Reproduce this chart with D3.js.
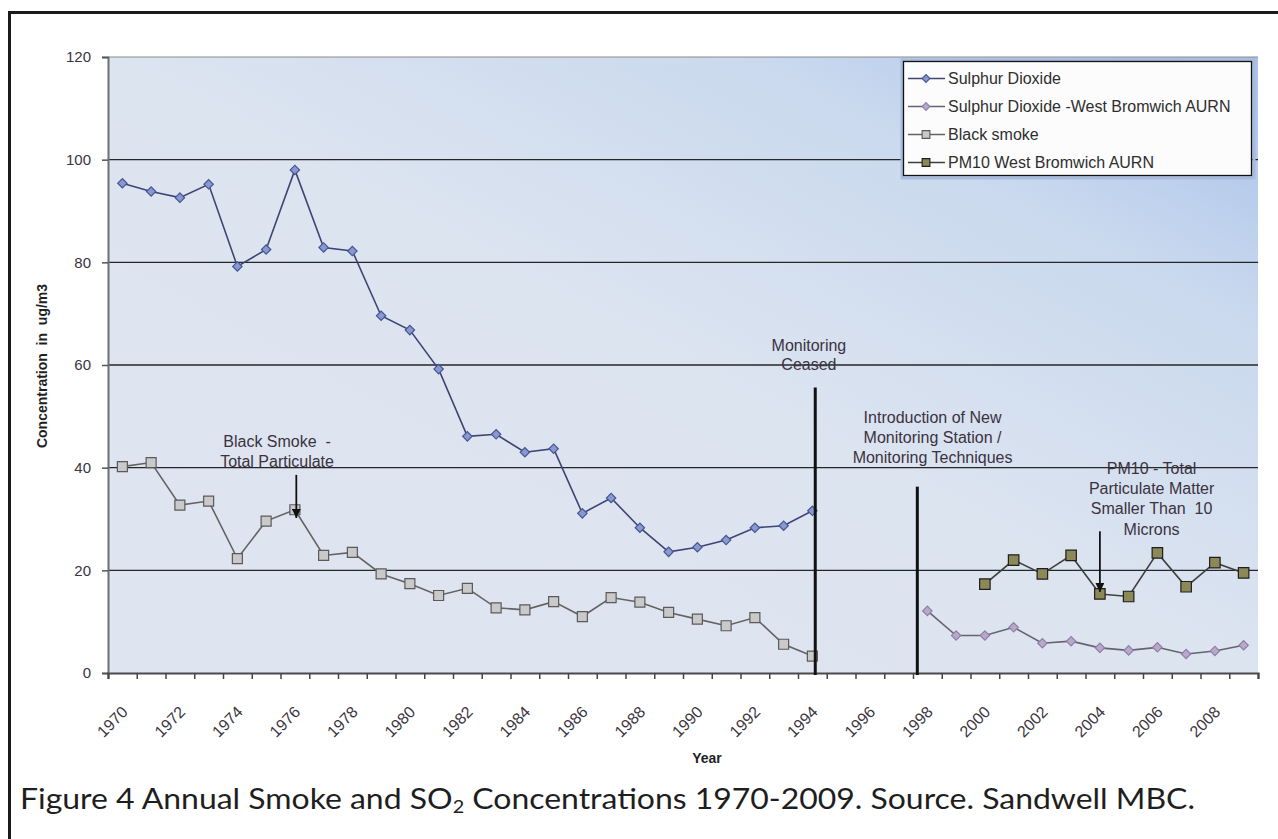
<!DOCTYPE html>
<html>
<head>
<meta charset="utf-8">
<script src="https://cdn.jsdelivr.net/npm/d3@7"></script>
<style>
  body { margin: 0; background: #fff; }
  svg { display: block; font-family: "Liberation Sans", Arial, sans-serif; }
</style>
</head>
<body>
<svg id="chart" width="1278" height="839"></svg>
<script>
// ---- Data (annual means, ug/m3) ----
const so2Years   = [1970,1971,1972,1973,1974,1975,1976,1977,1978,1979,1980,1981,1982,1983,1984,1985,1986,1987,1988,1989,1990,1991,1992,1993,1994];
const so2Values  = [95.4,93.8,92.6,95.2,79.2,82.5,98.0,82.9,82.2,69.6,66.8,59.2,46.1,46.5,43.0,43.7,31.1,34.1,28.3,23.6,24.5,25.9,28.3,28.7,31.6];

const smokeYears  = [1970,1971,1972,1973,1974,1975,1976,1977,1978,1979,1980,1981,1982,1983,1984,1985,1986,1987,1988,1989,1990,1991,1992,1993,1994];
const smokeValues = [40.2,41.0,32.7,33.5,22.3,29.6,31.8,22.9,23.5,19.3,17.4,15.1,16.5,12.7,12.3,13.9,11.0,14.7,13.8,11.8,10.5,9.2,10.8,5.6,3.3];

const so2WBYears  = [1998,1999,2000,2001,2002,2003,2004,2005,2006,2007,2008,2009];
const so2WBValues = [12.1,7.3,7.3,8.9,5.8,6.2,4.9,4.4,5.0,3.7,4.3,5.4];

const pm10Years   = [2000,2001,2002,2003,2004,2005,2006,2007,2008,2009];
const pm10Values  = [17.3,22.0,19.3,22.9,15.4,14.9,23.4,16.8,21.5,19.5];

const categoryYears = [1970,1971,1972,1973,1974,1975,1976,1977,1978,1979,1980,1981,1982,1983,1984,1985,1986,1987,1988,1989,
                       1990,1991,1992,1993,1994,1995,1996,1997,1998,1999,2000,2001,2002,2003,2004,2005,2006,2007,2008,2009];
const xTickLabels = [1970,1972,1974,1976,1978,1980,1982,1984,1986,1988,1990,1992,1994,1996,1998,2000,2002,2004,2006,2008];
const yTicks = [0,20,40,60,80,100,120];

const seriesNames = ["Sulphur Dioxide", "Sulphur Dioxide -West Bromwich AURN", "Black smoke", "PM10 West Bromwich AURN"];

// ---- Layout ----
const FONT = "'Liberation Sans', Arial, sans-serif";
const svg = d3.select("#chart");
const plot = { left: 108, right: 1258, top: 57, bottom: 673 };

// Category axis: each year occupies one band, points sit at band centres
const x = d3.scaleLinear()
  .domain([categoryYears[0] - 0.5, categoryYears[categoryYears.length - 1] + 0.5])
  .range([plot.left, plot.right]);
const y = d3.scaleLinear().domain([0, 120]).range([plot.bottom, plot.top]);

// Outer frame
svg.append("rect")
  .attr("x", 9.5).attr("y", 12.5).attr("width", 1300).attr("height", 900)
  .attr("fill", "none").attr("stroke", "#1a1a1a").attr("stroke-width", 3);

// Plot background gradient
const defs = svg.append("defs");
const grad = defs.append("linearGradient").attr("id", "plotBg")
  .attr("x1", "0").attr("y1", "1").attr("x2", "1").attr("y2", "0");
grad.append("stop").attr("offset", "0").attr("stop-color", "#dfe5f0");
grad.append("stop").attr("offset", "0.5").attr("stop-color", "#dce4f0");
grad.append("stop").attr("offset", "0.78").attr("stop-color", "#cad9ee");
grad.append("stop").attr("offset", "1").attr("stop-color", "#a6c1ea");

svg.append("rect")
  .attr("x", plot.left).attr("y", plot.top)
  .attr("width", plot.right - plot.left).attr("height", plot.bottom - plot.top)
  .attr("fill", "url(#plotBg)");

// Top edge of plot area
svg.append("line")
  .attr("x1", plot.left).attr("x2", plot.right)
  .attr("y1", y(120)).attr("y2", y(120))
  .attr("stroke", "#8a8a8a").attr("stroke-width", 1);

// Horizontal gridlines
svg.append("g").selectAll("line")
  .data(yTicks.filter(v => v > 0 && v < 120))
  .join("line")
  .attr("x1", plot.left).attr("x2", plot.right)
  .attr("y1", d => y(d)).attr("y2", d => y(d))
  .attr("stroke", "#262626").attr("stroke-width", 1.4);

// Y axis
const yAxis = svg.append("g")
  .attr("transform", `translate(${plot.left},0)`)
  .call(d3.axisLeft(y).tickValues(yTicks).tickSize(6).tickPadding(11));
yAxis.attr("font-family", FONT);
yAxis.select(".domain").attr("stroke", "#6e6e6e").attr("stroke-width", 2);
yAxis.selectAll(".tick line").attr("stroke", "#555").attr("stroke-width", 1.5);
yAxis.selectAll(".tick text")
  .attr("font-size", 15).attr("fill", "#3a3440");

// X axis: tick marks between categories
const boundaries = d3.range(categoryYears.length + 1).map(i => categoryYears[0] - 0.5 + i);
const xAxis = svg.append("g")
  .attr("transform", `translate(0,${plot.bottom})`)
  .call(d3.axisBottom(x).tickValues(boundaries).tickSize(6).tickFormat(""));
xAxis.select(".domain").attr("stroke", "#4a4a4a").attr("stroke-width", 2.2);
xAxis.selectAll(".tick line").attr("stroke", "#444").attr("stroke-width", 1.5);

// X axis labels, rotated, every second year
const xLabels = svg.append("g")
  .attr("transform", `translate(0,${plot.bottom})`)
  .call(d3.axisBottom(x).tickValues(xTickLabels).tickSize(0).tickFormat(d3.format("d")));
xLabels.attr("font-family", FONT);
xLabels.select(".domain").remove();
xLabels.selectAll(".tick text")
  .attr("font-size", 16).attr("fill", "#3a3440")
  .attr("text-anchor", "end").attr("y", 0).attr("dy", 0)
  .attr("transform", "translate(6,40) rotate(-45)");

// Axis titles
svg.append("text")
  .attr("transform", `translate(47,366) rotate(-90)`)
  .attr("text-anchor", "middle")
  .attr("font-size", 14).attr("font-weight", "bold").attr("fill", "#1f1f1f")
  .attr("style", "white-space: pre")
  .text("Concentration  in  ug/m3");
svg.append("text")
  .attr("x", 707).attr("y", 763)
  .attr("text-anchor", "middle")
  .attr("font-size", 14).attr("font-weight", "bold").attr("fill", "#1f1f1f")
  .text("Year");

// ---- Series ----
const styles = [
  { years: so2Years,   values: so2Values,   line: "#3e4474", fill: "#8799d2", stroke: "#48558f", shape: "diamond", size: 44 },
  { years: so2WBYears, values: so2WBValues, line: "#66626e", fill: "#b8a8cc", stroke: "#8f80a3", shape: "diamond", size: 44 },
  { years: smokeYears, values: smokeValues, line: "#636363", fill: "#c9c9c9", stroke: "#5a5a5a", shape: "square",  size: 100 },
  { years: pm10Years,  values: pm10Values,  line: "#3f3f3f", fill: "#8c8857", stroke: "#1e1e1e", shape: "square",  size: 110 }
];

const lineGen = d3.line().x(d => x(d[0])).y(d => y(d[1]));

styles.forEach(s => {
  const pts = s.years.map((yr, i) => [yr, s.values[i]]);
  svg.append("path")
    .datum(pts)
    .attr("d", lineGen)
    .attr("fill", "none")
    .attr("stroke", s.line)
    .attr("stroke-width", 1.6);
  svg.append("g").selectAll("path")
    .data(pts)
    .join("path")
    .attr("d", d3.symbol(d3.symbolSquare, s.size)())
    .attr("transform", d => `translate(${x(d[0])},${y(d[1])})` + (s.shape === "diamond" ? " rotate(45)" : ""))
    .attr("fill", s.fill)
    .attr("stroke", s.stroke)
    .attr("stroke-width", 1.2);
});

// ---- Annotations ----
const annoColor = "#3b3240";
// converts a pixel text centre to a value on the y scale, for baseline placement
const lineVal = py => y.invert(py + 6);
function annoText(year, centres, lines) {
  const t = svg.append("text")
    .attr("text-anchor", "middle")
    .attr("font-size", 16).attr("fill", annoColor)
    .attr("style", "white-space: pre");
  lines.forEach((ln, i) => {
    t.append("tspan").attr("x", x(year)).attr("y", y(lineVal(centres[i]))).text(ln);
  });
}
defs.append("marker")
  .attr("id", "arrowHead")
  .attr("viewBox", "0 0 10 10").attr("refX", 10).attr("refY", 5)
  .attr("markerWidth", 5).attr("markerHeight", 5)
  .attr("markerUnits", "strokeWidth")
  .attr("orient", "auto")
  .append("path").attr("d", "M0,0 L10,5 L0,10 Z").attr("fill", "#111");

function arrow(year, v1, v2) {
  svg.append("line")
    .attr("x1", x(year)).attr("x2", x(year))
    .attr("y1", y(v1)).attr("y2", y(v2))
    .attr("stroke", "#111").attr("stroke-width", 1.8)
    .attr("marker-end", "url(#arrowHead)");
}
function vline(year, vTop) {
  svg.append("line")
    .attr("x1", x(year)).attr("x2", x(year))
    .attr("y1", y(vTop)).attr("y2", y(0) + 2)
    .attr("stroke", "#111").attr("stroke-width", 3);
}

// Monitoring ceased
vline(1994.1, 55.6);
annoText(1993.88, [345, 364], ["Monitoring", "Ceased"]);

// New station
vline(1997.65, 36.3);
annoText(1998.18, [416.5, 437, 457], ["Introduction of New", "Monitoring Station /", "Monitoring Techniques"]);

// Black smoke note
annoText(1975.38, [441, 461], ["Black Smoke  -", "Total Particulate"]);
arrow(1976.05, 38.6, 30.2);

// PM10 note
annoText(2005.8, [468, 488, 508, 529], ["PM10 - Total", "Particulate Matter", "Smaller Than  10", "Microns"]);
arrow(2004, 27.6, 15.8);

// ---- Legend ----
const lg = svg.append("g").attr("font-family", FONT);
lg.append("rect")
  .attr("x", 902).attr("y", 60).attr("width", 352).attr("height", 118)
  .attr("fill", "none").attr("stroke", "#a9bbdc").attr("stroke-width", 3);
lg.append("rect")
  .attr("x", 903.5).attr("y", 61.5).attr("width", 348).attr("height", 114)
  .attr("fill", "#fcfcfd").attr("stroke", "#111").attr("stroke-width", 1.3);
styles.forEach((s, i) => {
  const ry = 78.5 + i * 28;
  lg.append("line").attr("x1", 908).attr("x2", 945).attr("y1", ry).attr("y2", ry)
    .attr("stroke", s.line).attr("stroke-width", 1.6);
  lg.append("path")
    .attr("d", d3.symbol(d3.symbolSquare, s.shape === "diamond" ? 30 : 60)())
    .attr("transform", `translate(926,${ry})` + (s.shape === "diamond" ? " rotate(45)" : ""))
    .attr("fill", s.fill).attr("stroke", s.stroke).attr("stroke-width", 1.1);
  lg.append("text").attr("x", 948).attr("y", ry + 5.5)
    .attr("font-size", 16).attr("fill", "#2e2e2e")
    .text(seriesNames[i]);
});

// ---- Caption ----
const cap = svg.append("text")
  .attr("x", 20).attr("y", 809)
  .attr("font-family", "Lato, 'Open Sans', sans-serif")
  .attr("font-weight", 400)
  .attr("font-size", 29).attr("fill", "#1e1e1e")
  .attr("textLength", 1175).attr("lengthAdjust", "spacingAndGlyphs");
cap.append("tspan").text("Figure 4 Annual Smoke and SO");
cap.append("tspan").attr("font-size", 18).attr("dy", 4).text("2");
cap.append("tspan").attr("dy", -4).text(" Concentrations 1970-2009. Source. Sandwell MBC.");
</script>
</body>
</html>
